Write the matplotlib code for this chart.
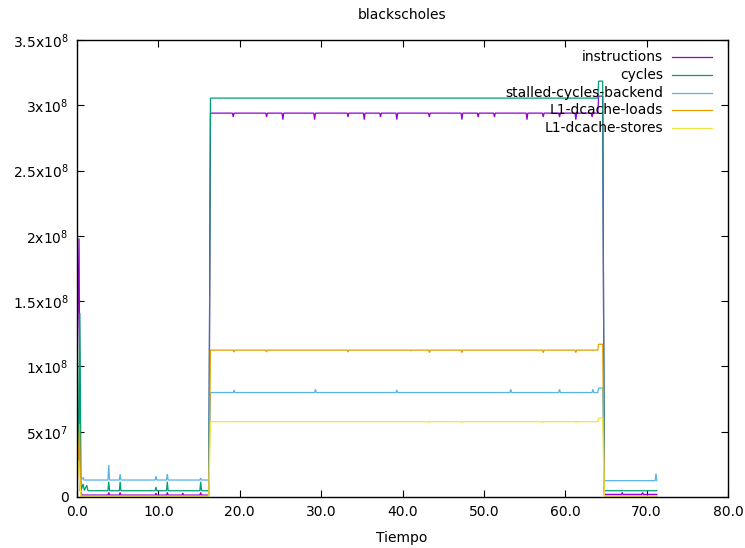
import matplotlib
matplotlib.use("Agg")
import matplotlib.pyplot as plt
from matplotlib.lines import Line2D

# --- data (time in s, counter values) ---
labels = ["instructions", "cycles", "stalled-cycles-backend", "L1-dcache-loads", "L1-dcache-stores"]
colors = ["#9400d3", "#009e73", "#56b4e9", "#e69f00", "#f0e442"]

# start-up burst, explicit points
instr_start = [(0.0, 9.0e7), (0.25, 1.98e8), (0.4, 5.0e6), (0.6, 1.5e6)]
cycles_start = [(0.0, 6.4e7), (0.15, 3.6e7), (0.35, 1.41e8), (0.5, 5.0e6), (0.75, 1.0e7), (0.9, 5.0e6),
                (1.2, 9.0e6), (1.35, 4.8e6)]
stalled_start = [(0.0, 3.8e7), (0.15, 1.8e7), (0.3, 2.5e7), (0.5, 1.3e7), (0.75, 1.5e7), (0.85, 1.3e7)]
loads_start = [(0.0, 1.5e7), (0.15, 2.8e7), (0.3, 5.6e7), (0.45, 1.0e6), (0.5, 0.8e6)]
stores_start = [(0.0, 5.0e6), (0.2, 2.8e7), (0.35, 1.0e7), (0.5, 0.4e6)]

# flat phases: (t_start, t_end, level)
instr_levels = [(0.6, 16.2, 1.5e6), (16.4, 64.0, 2.94e8), (64.1, 64.6, 3.07e8), (64.8, 71.25, 2.0e6)]
cycles_levels = [(1.35, 16.2, 4.8e6), (16.4, 64.0, 3.055e8), (64.1, 64.6, 3.185e8), (64.8, 71.25, 4.8e6)]
stalled_levels = [(0.85, 16.2, 1.3e7), (16.4, 64.0, 8.0e7), (64.1, 64.6, 8.35e7), (64.8, 71.0, 1.25e7)]
loads_levels = [(0.5, 16.2, 0.8e6), (16.4, 64.0, 1.125e8), (64.1, 64.6, 1.17e8), (64.8, 71.25, 0.8e6)]
stores_levels = [(0.5, 16.2, 0.4e6), (16.4, 64.0, 5.77e7), (64.1, 64.6, 6.05e7), (64.8, 71.25, 0.4e6)]

# short spikes / dips: (t, value)
instr_spikes = [(3.9, 3.5e6), (5.3, 3.5e6), (9.7, 3.0e6), (11.1, 3.5e6), (13.0, 3.0e6), (15.2, 3.5e6),
                (19.2, 2.91e8), (23.3, 2.91e8), (25.3, 2.89e8), (29.2, 2.89e8), (33.3, 2.91e8),
                (35.3, 2.89e8), (37.3, 2.91e8), (39.3, 2.89e8), (43.3, 2.91e8), (47.3, 2.89e8),
                (49.3, 2.91e8), (51.3, 2.91e8), (55.3, 2.89e8), (57.3, 2.91e8), (59.3, 2.91e8),
                (61.3, 2.89e8), (63.3, 2.91e8), (67.0, 3.5e6), (69.5, 3.5e6)]
cycles_spikes = [(3.9, 1.17e7), (5.3, 1.17e7), (9.7, 7.6e6), (11.1, 1.17e7), (15.2, 1.17e7)]
stalled_spikes = [(3.9, 2.45e7), (5.3, 1.76e7), (9.7, 1.6e7), (11.1, 1.76e7), (15.2, 1.45e7),
                  (19.3, 8.2e7), (29.3, 8.25e7), (39.3, 8.2e7), (53.3, 8.25e7), (59.3, 8.25e7),
                  (63.4, 8.25e7), (71.15, 1.8e7)]
loads_spikes = [(19.3, 1.11e8), (23.3, 1.11e8), (33.3, 1.11e8), (41.0, 1.12e8), (43.3, 1.105e8),
                (47.3, 1.105e8), (57.3, 1.105e8), (61.3, 1.105e8)]
stores_spikes = [(43.3, 5.7e7), (47.3, 5.7e7), (57.3, 5.7e7), (61.3, 5.7e7)]


def trace(start, levels, spikes):
    pts = list(start)
    for a, b, v in levels:
        pts += [(a, v), (b, v)]
    for t, v in spikes:
        base = next(lv for a, b, lv in levels if a <= t <= b + 0.2)
        pts += [(t - 0.1, base), (t, v), (t + 0.1, base)]
    pts.sort(key=lambda p: p[0])
    return [p[0] for p in pts], [p[1] for p in pts]


series = [
    trace(instr_start, instr_levels, instr_spikes),
    trace(cycles_start, cycles_levels, cycles_spikes),
    trace(stalled_start, stalled_levels, stalled_spikes),
    trace(loads_start, loads_levels, loads_spikes),
    trace(stores_start, stores_levels, stores_spikes),
]

plt.rcParams['font.family'] = ['DejaVu Sans']
plt.rcParams['mathtext.default'] = 'regular'

W, H = 745, 548
fig = plt.figure(figsize=(W / 100, H / 100), dpi=100)
ax = fig.add_axes([77 / W, 1 - 497 / H, (728 - 77) / W, (497 - 40) / H])

for (t, v), c in zip(series, colors):
    ax.plot(t, v, color=c, lw=0.9, solid_joinstyle='miter')

ax.set_xlim(0, 80)
ax.set_ylim(0, 3.5e8)
xticks = [0, 10, 20, 30, 40, 50, 60, 70, 80]
ax.set_xticks(xticks)
ax.set_xticklabels([f"{x:.1f}" for x in xticks])
yticks = [0, 5e7, 1e8, 1.5e8, 2e8, 2.5e8, 3e8, 3.5e8]
ylabels = ["0", "5x10$^{7}$", "1x10$^{8}$", "1.5x10$^{8}$", "2x10$^{8}$", "2.5x10$^{8}$",
           "3x10$^{8}$", "3.5x10$^{8}$"]
ax.set_yticks(yticks)
ax.set_yticklabels(ylabels)
ax.tick_params(direction='in', length=5, width=0.8, top=True, right=True, labelsize=10, pad=6,
               colors='black')
for s in ax.spines.values():
    s.set_linewidth(1.0)

# legend drawn by hand: right-aligned text, sample line after it
for i, (lab, c) in enumerate(zip(labels, colors)):
    y = 1 - (57 + 17.8 * i) / H
    fig.text(663 / W, y, lab, ha='right', va='center', fontsize=10)
    fig.add_artist(Line2D([672 / W, 712 / W], [y, y], color=c, lw=0.9, transform=fig.transFigure))

fig.text(402 / W, 1 - 15 / H, "blackscholes", ha='center', va='center', fontsize=10)
fig.text(402 / W, 1 - 538 / H, "Tiempo", ha='center', va='center', fontsize=10)

fig.savefig("out.png", dpi=100)
